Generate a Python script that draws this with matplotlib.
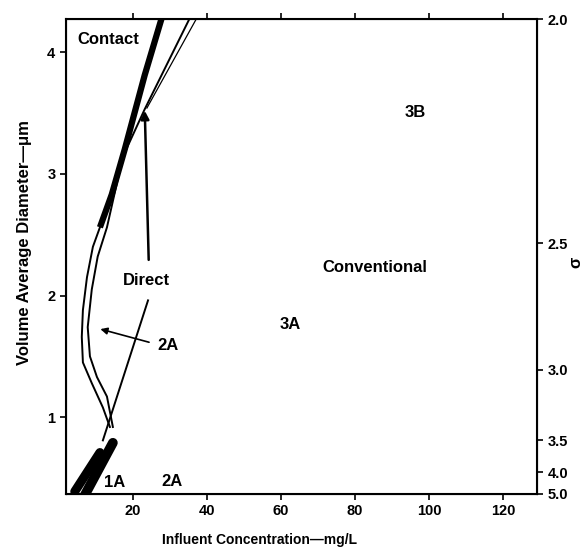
import matplotlib
matplotlib.use("Agg")
import matplotlib.pyplot as plt

plt.rcParams['font.family'] = ['Liberation Sans', 'DejaVu Sans']
plt.rcParams['font.weight'] = 'bold'

# ejes
x_ticks = [20, 40, 60, 80, 100, 120]
y_ticks = [1, 2, 3, 4]
sigma_labels = ["2.0", "2.5", "3.0", "3.5", "4.0", "5.0"]
sigma_en_diametro = [4.27, 2.43, 1.39, 0.81, 0.55, 0.37]

# curva gruesa (Contact)
contact_conc = [28.1, 23.2, 17.8, 14.3, 11.1]
contact_diam = [4.31, 3.81, 3.20, 2.83, 2.56]

# curva exterior (continua la gruesa)
exterior_conc = [11.1, 9.2, 7.6, 6.5, 6.2, 6.5, 8.9, 11.9, 13.8]
exterior_diam = [2.56, 2.40, 2.15, 1.88, 1.66, 1.45, 1.28, 1.08, 0.92]

# curva interior
interior_conc = [35.9, 23.2, 17.3, 13.0, 10.5, 8.9, 7.8, 8.4, 10.3, 13.0, 14.6]
interior_diam = [4.31, 3.53, 3.14, 2.56, 2.32, 2.05, 1.74, 1.50, 1.33, 1.17, 0.92]

# linea fina superior
fina_conc = [37.3, 23.8]
fina_diam = [4.28, 3.54]

# linea Direct
direct_conc = [24.1, 11.9]
direct_diam = [1.96, 0.81]

# zonas 1A (manchas)
mancha1_conc = [4.3, 11.1]
mancha1_diam = [0.39, 0.71]
mancha2_conc = [7.0, 14.6]
mancha2_diam = [0.36, 0.79]

fig = plt.figure(figsize=(5.83, 5.47), dpi=100)
ax = fig.add_axes([0.113, 0.097, 0.808, 0.868])

ax.plot(contact_conc, contact_diam, color='black', lw=4.5, solid_capstyle='butt')
ax.plot(exterior_conc, exterior_diam, color='black', lw=1.4)
ax.plot(interior_conc, interior_diam, color='black', lw=1.4)
ax.plot(fina_conc, fina_diam, color='black', lw=0.9)
ax.plot(direct_conc, direct_diam, color='black', lw=1.4)
ax.plot(mancha1_conc, mancha1_diam, color='black', lw=6.5, solid_capstyle='round')
ax.plot(mancha2_conc, mancha2_diam, color='black', lw=7, solid_capstyle='round')

# flechas
ax.annotate("", xy=(23.2, 3.54), xytext=(24.3, 2.27),
            arrowprops=dict(arrowstyle='-|>', color='black', lw=1.8, mutation_scale=12))
ax.annotate("", xy=(10.5, 1.73), xytext=(25.1, 1.61),
            arrowprops=dict(arrowstyle='-|>', color='black', lw=1.2, mutation_scale=10))

# textos
fs = 12
ax.text(5.1, 4.10, "Contact", fontsize=fs, fontweight='bold', ha='left', va='center')
ax.text(23.8, 2.12, "Direct", fontsize=fs, fontweight='bold', ha='center', va='center')
ax.text(29.5, 1.59, "2A", fontsize=fs, fontweight='bold', ha='center', va='center')
ax.text(96.2, 3.50, "3B", fontsize=fs, fontweight='bold', ha='center', va='center')
ax.text(85.4, 2.23, "Conventional", fontsize=fs, fontweight='bold', ha='center', va='center')
ax.text(62.4, 1.76, "3A", fontsize=fs, fontweight='bold', ha='center', va='center')
ax.text(15.1, 0.46, "1A", fontsize=fs, fontweight='bold', ha='center', va='center')
ax.text(30.5, 0.47, "2A", fontsize=fs, fontweight='bold', ha='center', va='center')

ax.set_xlim(1.9, 129.2)
ax.set_ylim(0.37, 4.27)
ax.set_xticks(x_ticks)
ax.set_yticks(y_ticks)
ax.tick_params(axis='both', direction='out', length=4, width=1.2, labelsize=10.5)
ax.tick_params(top=True, labeltop=False)
for s in ax.spines.values():
    s.set_linewidth(1.5)

ax.set_xlabel("Influent Concentration\u2014mg/L", fontsize=10, fontweight='bold')
ax.xaxis.set_label_coords(0.412, -0.082)
ax.set_ylabel("Volume Average Diameter\u2014\u03bcm", fontsize=12, fontweight='bold')
ax.yaxis.set_label_coords(-0.072, 0.53)

# eje derecho sigma
ax2 = ax.twinx()
ax2.set_ylim(ax.get_ylim())
ax2.set_yticks(sigma_en_diametro)
ax2.set_yticklabels(sigma_labels)
ax2.tick_params(axis='y', direction='out', length=4, width=1.2, labelsize=10.5)
fig.text(0.988, 0.52, "\u03c3", fontsize=12, rotation=90, ha='center', va='center')

fig.savefig("out.png", dpi=100)
